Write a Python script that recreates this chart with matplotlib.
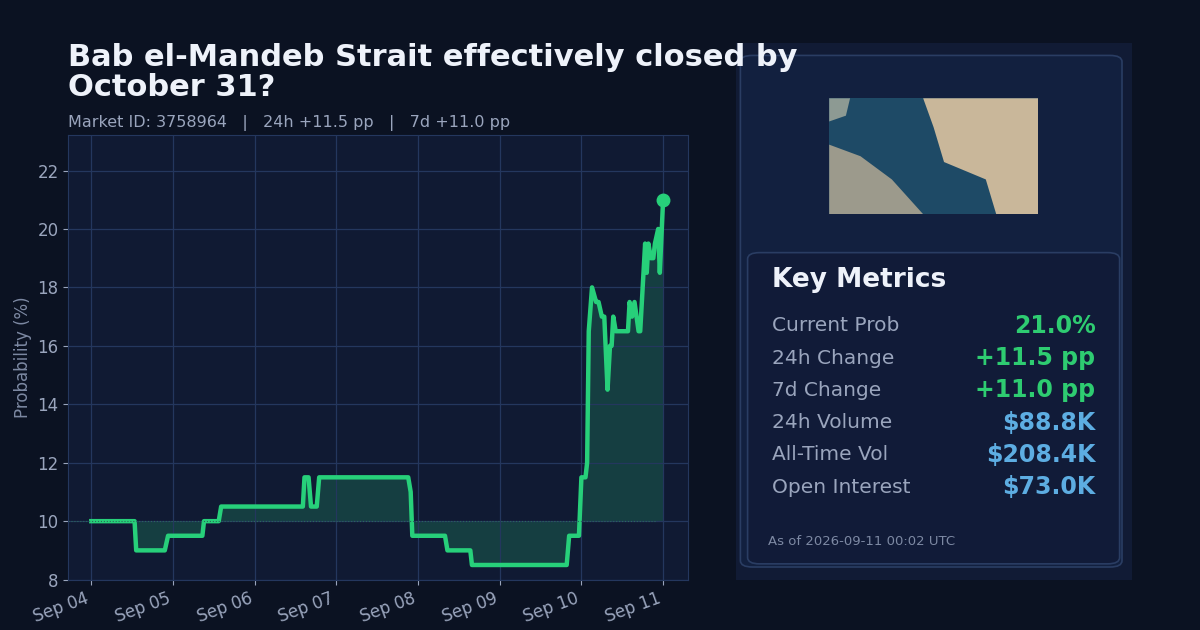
import matplotlib
matplotlib.use("Agg")
import matplotlib.pyplot as plt
import matplotlib.dates as mdates
from matplotlib.patches import FancyBboxPatch, Rectangle, Polygon
import datetime as dt

# -- data: (days after Sep 04, probability %) --
day_offsets = [0.0, 0.53, 0.55, 0.90, 0.94, 1.36, 1.38, 1.56, 1.59, 2.59, 2.61, 2.66, 2.69,
               2.76, 2.79, 3.88, 3.91, 3.93, 4.33, 4.36, 4.64, 4.66, 5.82, 5.85, 5.97, 6.00,
               6.05, 6.07, 6.09, 6.13, 6.18, 6.21, 6.25, 6.28, 6.32, 6.35, 6.37, 6.39, 6.42,
               6.57, 6.59, 6.62, 6.65, 6.70, 6.72, 6.78, 6.80, 6.82, 6.85, 6.88, 6.90, 6.94,
               6.96, 7.0]
prob = [10, 10, 9, 9, 9.5, 9.5, 10, 10, 10.5, 10.5, 11.5, 11.5, 10.5,
        10.5, 11.5, 11.5, 11, 9.5, 9.5, 9, 9, 8.5, 8.5, 9.5, 9.5, 11.5,
        11.5, 12, 16.5, 18, 17.5, 17.5, 17, 17, 14.5, 16, 16, 17, 16.5,
        16.5, 17.5, 17, 17.5, 16.5, 16.5, 19.5, 18.5, 19.5, 19, 19, 19.5, 20,
        18.5, 21]
baseline = 10.0

metric_labels = ["Current Prob", "24h Change", "7d Change", "24h Volume", "All-Time Vol", "Open Interest"]
metric_values = ["21.0%", "+11.5 pp", "+11.0 pp", "$88.8K", "$208.4K", "$73.0K"]
metric_colors = ["#2ecc71", "#2ecc71", "#2ecc71", "#5dade2", "#5dade2", "#5dade2"]

start = dt.datetime(2025, 9, 4)
times = [start + dt.timedelta(days=d) for d in day_offsets]

BG = "#0b1222"
AX_BG = "#101a33"
TXT = "#9aa5bd"

fig = plt.figure(figsize=(12, 6.3), dpi=100, facecolor=BG)
ax = fig.add_axes([0.057, 0.08, 0.516, 0.705], facecolor=AX_BG)
ax.plot(times, prob, color="#27d07a", lw=3.2, solid_joinstyle="round")
ax.fill_between(times, prob, baseline, color="#1f7a5a", alpha=0.38, lw=0)
ax.axhline(baseline, color="#2a6a5a", lw=0.8, ls=":", xmax=0.95)
ax.plot(times[-1], prob[-1], "o", color="#27d07a", ms=9)
ax.set_ylim(8, 23.2)
ax.set_xlim(start - dt.timedelta(days=0.28), start + dt.timedelta(days=7.3))
ax.set_yticks(range(8, 23, 2))
ax.xaxis.set_major_locator(mdates.DayLocator())
ax.xaxis.set_major_formatter(mdates.DateFormatter("%b %d"))
for lab in ax.get_xticklabels():
    lab.set_rotation(20)
    lab.set_ha("right")
ax.tick_params(colors=TXT, labelsize=12)
ax.grid(color="#24375e", lw=0.9)
for s in ax.spines.values():
    s.set_color("#24375e")
ax.set_ylabel("Probability (%)", color="#7d89a3", fontsize=12)

fig.text(0.057, 0.838, "Bab el-Mandeb Strait effectively closed by\nOctober 31?",
         color="#eef2fa", fontsize=22, fontweight="bold", va="bottom", linespacing=1.05)
fig.text(0.057, 0.805, "Market ID: 3758964   |   24h +11.5 pp   |   7d +11.0 pp",
         color=TXT, fontsize=11.5, va="center")

# -- right panel --
fig.patches.append(Rectangle((0.613, 0.08), 0.33, 0.852, transform=fig.transFigure,
                             facecolor="#111b35", edgecolor="none"))
fig.patches.append(FancyBboxPatch((0.617, 0.1), 0.318, 0.812, transform=fig.transFigure,
                                  boxstyle="round,pad=0,rounding_size=0.01",
                                  facecolor="#12203f", edgecolor="#2a3d63", lw=1.2))
fig.patches.append(FancyBboxPatch((0.623, 0.105), 0.31, 0.494, transform=fig.transFigure,
                                  boxstyle="round,pad=0,rounding_size=0.01",
                                  facecolor="#111b38", edgecolor="#2a3d63", lw=1.2))

# satellite thumbnail placeholder
img_ax = fig.add_axes([0.691, 0.66, 0.174, 0.184], zorder=5)
img_ax.set_facecolor("#1e4a66")
img_ax.set_xlim(0, 1)
img_ax.set_ylim(0, 1)
img_ax.add_patch(Polygon([[0.45, 1], [1, 1], [1, 0], [0.8, 0], [0.75, 0.3], [0.55, 0.45],
                          [0.5, 0.75]], facecolor="#c9b79a", edgecolor="none"))
img_ax.add_patch(Polygon([[0, 0.6], [0.15, 0.5], [0.3, 0.3], [0.45, 0], [0, 0]],
                         facecolor="#9c9a8c", edgecolor="none"))
img_ax.add_patch(Polygon([[0, 1], [0.1, 1], [0.08, 0.85], [0, 0.8]],
                         facecolor="#8d9a93", edgecolor="none"))
img_ax.set_xticks([])
img_ax.set_yticks([])
for s in img_ax.spines.values():
    s.set_visible(False)

fig.text(0.643, 0.555, "Key Metrics", color="#eef2fa", fontsize=19, fontweight="bold", va="center")
for i, (lab, val, col) in enumerate(zip(metric_labels, metric_values, metric_colors)):
    y = 0.483 - i * 0.0513
    fig.text(0.643, y, lab, color=TXT, fontsize=14.5, va="center")
    fig.text(0.913, y, val, color=col, fontsize=17, fontweight="bold", va="center", ha="right")
fig.text(0.64, 0.14, "As of 2026-09-11 00:02 UTC", color="#7d89a3", fontsize=9.5, va="center")

fig.savefig("out.png", dpi=100, facecolor=BG)
